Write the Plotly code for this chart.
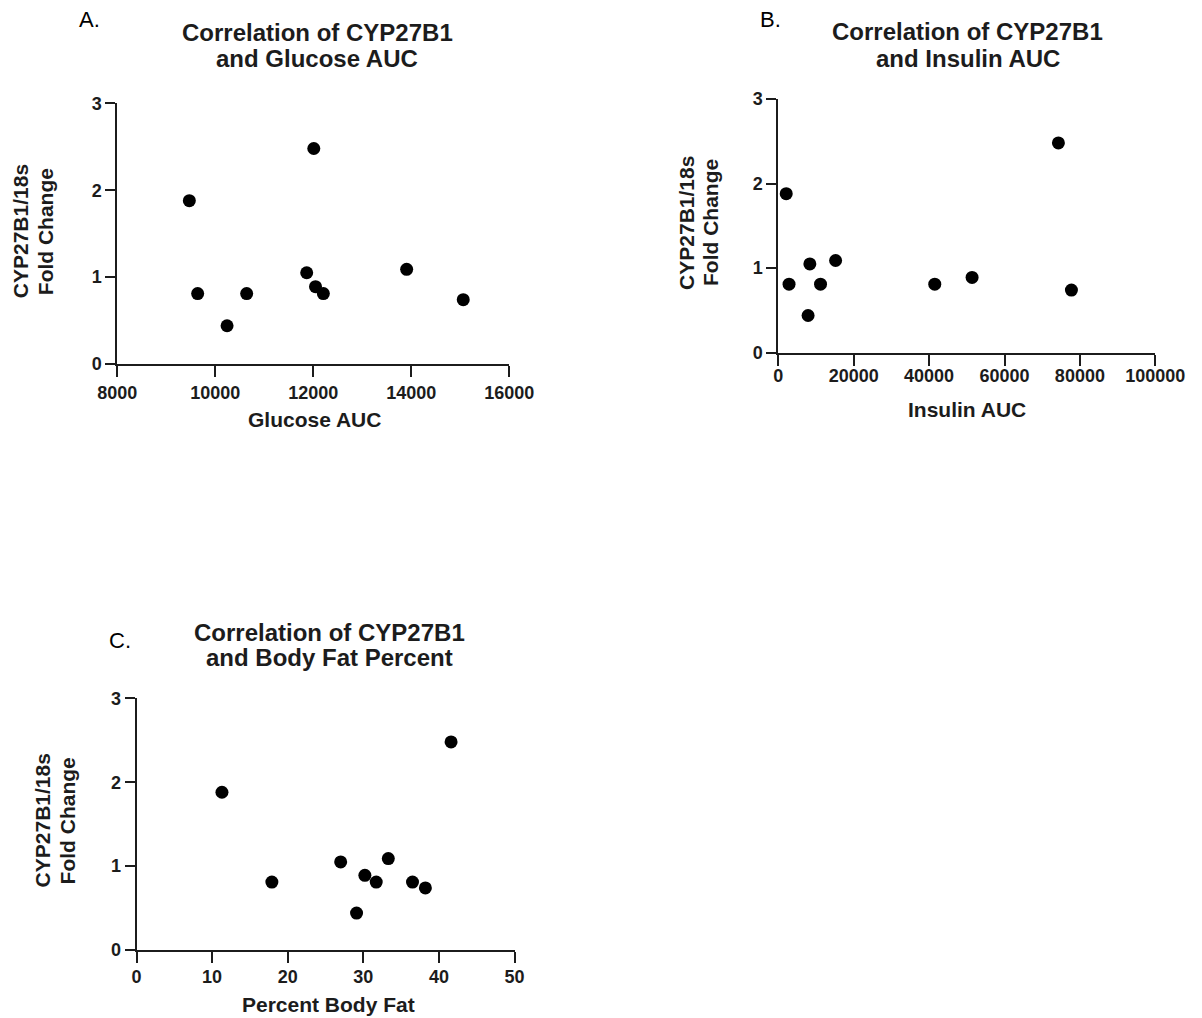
import plotly.graph_objects as go

# ---------------- data ----------------
fold_change = [1.88, 0.81, 0.44, 1.05, 2.48, 0.89, 0.81, 1.09, 0.81, 0.74]
glucose_auc = [9470, 9640, 10240, 11865, 12010, 12045, 10640, 13905, 12205, 15060]
insulin_auc = [2100, 2850, 7900, 8370, 74300, 51400, 11200, 15200, 41500, 77750]
body_fat_pct = [11.3, 17.9, 29.1, 27.0, 41.6, 30.2, 31.7, 33.3, 36.5, 38.2]

y_ticks = [0, 1, 2, 3]
glucose_ticks = [8000, 10000, 12000, 14000, 16000]
insulin_ticks = [0, 20000, 40000, 60000, 80000, 100000]
fat_ticks = [0, 10, 20, 30, 40, 50]

panel_labels = ["A.", "B.", "C."]
titles = [
    ["Correlation of CYP27B1", "and Glucose AUC"],
    ["Correlation of CYP27B1", "and Insulin AUC"],
    ["Correlation of CYP27B1", "and Body Fat Percent"],
]
x_titles = ["Glucose AUC", "Insulin AUC", "Percent Body Fat"]
y_title_lines = ["CYP27B1/18s", "Fold Change"]

# ---------------- layout helpers (pixel geometry) ----------------
W, H = 1202, 1018
FONT = "Liberation Sans, Arial, sans-serif"
INK = "#1c1c1c"


def px(x):
    return x / W


def py(y):
    return 1 - y / H


# plot boxes in pixels: (left, right, top, bottom)
boxes = [
    (117.3, 509.3, 103.3, 364.0),
    (778.3, 1155.3, 99.0, 352.7),
    (136.5, 514.6, 698.3, 950.0),
]
x_data = [glucose_auc, insulin_auc, body_fat_pct]
x_ticks = [glucose_ticks, insulin_ticks, fat_ticks]
x_standoff = [0, -5, -2]

fig = go.Figure()

for i in range(3):
    sfx = "" if i == 0 else str(i + 1)
    fig.add_trace(
        go.Scatter(
            x=x_data[i],
            y=fold_change,
            mode="markers",
            marker=dict(color="black", size=13, line=dict(width=0)),
            xaxis="x" + sfx,
            yaxis="y" + sfx,
            showlegend=False,
            cliponaxis=False,
        )
    )
    l, r, t, b = boxes[i]
    xt = x_ticks[i]
    fig.update_layout(
        {
            "xaxis" + sfx: dict(
                domain=[px(l), px(r)],
                anchor="y" + sfx,
                range=[xt[0], xt[-1]],
                tickvals=xt,
                ticktext=[str(v) for v in xt],
                ticks="outside",
                ticklen=11,
                tickwidth=2,
                tickcolor=INK,
                showline=True,
                linewidth=2,
                linecolor=INK,
                showgrid=False,
                zeroline=False,
                automargin=False,
                ticklabelstandoff=x_standoff[i],
                tickfont=dict(family=FONT, size=18, color=INK, weight="bold"),
            ),
            "yaxis" + sfx: dict(
                domain=[py(b), py(t)],
                anchor="x" + sfx,
                range=[y_ticks[0], y_ticks[-1]],
                tickvals=y_ticks,
                ticktext=[str(v) for v in y_ticks],
                ticks="outside",
                ticklen=10,
                tickwidth=2,
                tickcolor=INK,
                showline=True,
                linewidth=2,
                linecolor=INK,
                showgrid=False,
                zeroline=False,
                automargin=False,
                tickfont=dict(family=FONT, size=18, color=INK, weight="bold"),
            ),
        }
    )

annotations = []


def ann(text, x, y, size, bold=True, angle=0, xanchor="center"):
    annotations.append(
        dict(
            text=text,
            x=px(x),
            y=py(y),
            xref="paper",
            yref="paper",
            xanchor=xanchor,
            yanchor="middle",
            showarrow=False,
            textangle=angle,
            font=dict(family=FONT, size=size, color=INK if bold else "black",
                      weight="bold" if bold else "normal"),
        )
    )


# panel letters
label_pos = [(76.7, 20.0), (758.4, 19.2), (107.0, 640.8)]
for lab, (x, y) in zip(panel_labels, label_pos):
    ann(lab, x, y, 22, bold=False, xanchor="left")

# titles (two lines each)
title_pos = [(317, 32.3, 58.3), (968, 31.2, 58.3), (329, 632.2, 657.5)]
for lines, (x, y1, y2) in zip(titles, title_pos):
    ann(lines[0], x, y1, 24)
    ann(lines[1], x, y2, 24)

# x-axis titles
xt_pos = [(314, 419.5), (967.5, 409.2), (328, 1004.2)]
for txt, (x, y) in zip(x_titles, xt_pos):
    ann(txt, x, y, 21)

# y-axis titles (two rotated lines)
yt_pos = [(20.7, 45.7, 231.5), (685.9, 710.0, 223.0), (42.9, 67.9, 820.5)]
for (x1, x2, y) in yt_pos:
    ann(y_title_lines[0], x1, y, 21, angle=-90)
    ann(y_title_lines[1], x2, y, 21, angle=-90)

fig.update_layout(
    width=W,
    height=H,
    autosize=False,
    margin=dict(l=0, r=0, t=0, b=0, autoexpand=False),
    paper_bgcolor="white",
    plot_bgcolor="white",
    annotations=annotations,
    showlegend=False,
)

fig.write_html(
    "out.html",
    config={"displayModeBar": False},
    post_script="document.body.style.margin='0';document.body.style.overflow='hidden';",
)
